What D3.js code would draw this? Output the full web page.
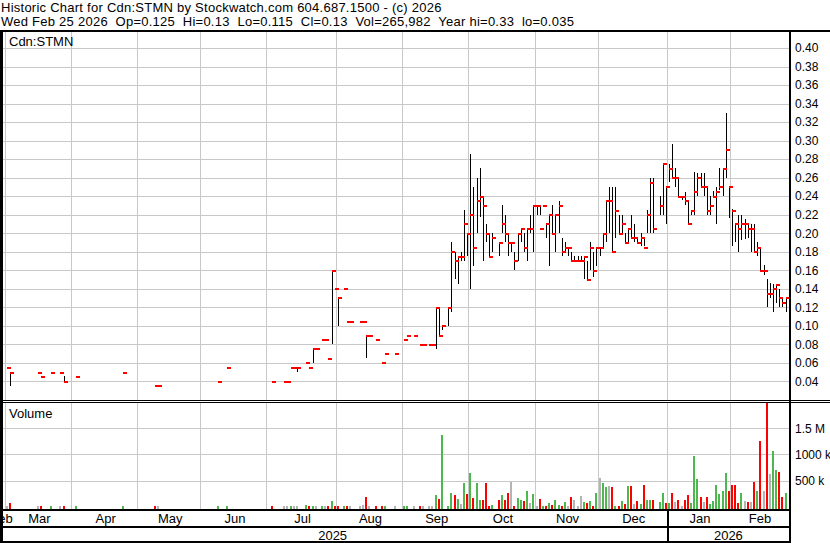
<!DOCTYPE html>
<html>
<head>
<meta charset="utf-8">
<script src="https://cdn.jsdelivr.net/npm/d3@7"></script>
<style>
  body { margin: 0; background: #fff; }
  svg { display: block; }
  text { white-space: pre; font-family: "Liberation Sans", Arial, sans-serif; }
</style>
</head>
<body>
<svg id="chart" width="830" height="543"></svg>
<script>
// ---- header text ----
const titleLines = [
  "Historic Chart for Cdn:STMN by Stockwatch.com 604.687.1500 - (c) 2026",
  "Wed Feb 25 2026  Op=0.125  Hi=0.13  Lo=0.115  Cl=0.13  Vol=265,982  Year hi=0.33  lo=0.035"
];

// ---- x axis: trading-day slots, 0 = left edge, 250 = Wed Feb 25 2026 ----
const slotCount = 251;
const monthNames = ["Feb", "Mar", "Apr", "May", "Jun", "Jul", "Aug", "Sep", "Oct", "Nov", "Dec", "Jan", "Feb"];
const monthStart = [0, 3, 24, 45, 65, 86, 108, 129, 150, 171, 191, 213, 233];
const yearNames = ["2025", "2026"];
const yearStart = [0, 213];

// ---- y axes ----
const priceTicks = [0.04, 0.06, 0.08, 0.10, 0.12, 0.14, 0.16, 0.18, 0.20, 0.22,
                    0.24, 0.26, 0.28, 0.30, 0.32, 0.34, 0.36, 0.38, 0.40];
const volTicks = [500000, 1000000, 1500000];
const volTickLabels = ["500 k", "1000 k", "1.5 M"];

// ---- daily data (only days that traded) ----
const day = [
  3, 4, 13, 14, 17, 20, 21,                                   // Mar
  25, 40,                                                     // Apr
  50, 51,                                                     // May
  70, 73,                                                     // Jun
  87, 91, 92, 93, 94, 95, 98, 99, 100, 101, 103, 104, 105, 106, 107, // Jul
  108, 110, 111, 112, 115, 116, 117, 118, 120, 122, 123, 126, // Aug
  129, 130, 132, 134, 135, 137, 138, 139, 140, 141, 143, 144, 145, 146, 147, 148, 149, // Sep
  150, 151, 152, 153, 154, 155, 156, 157, 159, 160, 161, 162, 163, 164, 165, 166, 167, 168, 169, 170, // Oct
  171, 172, 173, 174, 175, 176, 177, 178, 179, 180, 181, 182, 183, 184, 185, 186, 187, 188, 189, 190, // Nov
  191, 192, 193, 194, 195, 196, 197, 198, 199, 200, 201, 202, 203, 204, 205, 206, 207, 208, 210, 211, 212, // Dec
  213, 214, 215, 216, 217, 218, 219, 220, 221, 222, 223, 224, 225, 226, 227, 228, 229, 230, 231, 232, // Jan
  233, 234, 235, 236, 237, 238, 239, 240, 241, 242, 243, 244, 245, 246, 247, 248, 249, 250  // Feb
];
const high = [
  .055, .05, .05, .045, .05, .05, .046,
  .045, .05,
  .035, .035,
  .04, .055,
  .04, .04, .04, .055, .055, .055, .06, .055, .075, .075, .085, .085, .065, .16, .14,
  .13, .14, .105, .105, .105, .105, .09, .09, .085, .06, .07, .07,
  .085, .09, .09, .08, .08, .08, .08, .12, .12, .10, .12, .19, .18, .175, .18, .225, .20,
  .286, .25, .26, .27, .24, .21, .20, .20, .19, .23, .22, .20, .19, .18, .20, .205, .20, .205, .22, .23,
  .23, .23, .23, .21, .22, .23, .22, .235, .195, .19, .185, .18, .175, .175, .175, .175, .17, .19, .18, .185,
  .185, .20, .235, .25, .25, .25, .22, .22, .20, .205, .22, .21, .195, .20, .195, .225, .26, .26, .24, .275, .25,
  .275, .296, .27, .26, .24, .245, .236, .225, .266, .265, .265, .265, .25, .24, .246, .25, .27, .27, .33, .25,
  .226, .21, .22, .22, .215, .21, .21, .21, .19, .185, .166, .15, .146, .145, .145, .14, .13, .13
];
const low = [
  .055, .035, .05, .045, .05, .05, .04,
  .045, .05,
  .035, .035,
  .04, .055,
  .04, .04, .04, .055, .055, .05, .06, .055, .06, .075, .085, .085, .065, .08, .14,
  .10, .14, .105, .105, .105, .105, .065, .09, .085, .06, .07, .07,
  .085, .09, .09, .08, .08, .08, .08, .075, .09, .095, .10, .115, .15, .145, .17, .17, .175,
  .14, .165, .20, .218, .17, .19, .175, .18, .175, .20, .19, .175, .18, .16, .17, .19, .18, .17, .20, .18,
  .22, .22, .23, .195, .165, .20, .18, .20, .175, .18, .175, .17, .17, .17, .17, .15, .15, .16, .153, .164,
  .175, .185, .19, .20, .18, .195, .20, .20, .19, .19, .195, .19, .19, .186, .186, .20, .20, .20, .22, .22, .21,
  .255, .26, .25, .24, .236, .23, .21, .22, .22, .24, .25, .24, .22, .22, .24, .21, .247, .24, .26, .216,
  .186, .19, .18, .193, .194, .195, .18, .18, .175, .16, .155, .12, .13, .115, .125, .12, .12, .115
];
const close = [
  .055, .05, .05, .045, .05, .05, .04,
  .045, .05,
  .035, .035,
  .04, .055,
  .04, .04, .04, .055, .055, .055, .06, .055, .075, .075, .085, .085, .065, .16, .14,
  .13, .14, .105, .105, .105, .105, .09, .09, .085, .06, .07, .07,
  .085, .09, .09, .08, .08, .08, .08, .12, .09, .10, .12, .18, .17, .175, .175, .21, .20,
  .22, .185, .235, .24, .23, .20, .175, .195, .19, .21, .20, .19, .19, .17, .20, .205, .185, .205, .205, .23,
  .23, .205, .23, .21, .22, .20, .22, .23, .18, .185, .185, .17, .17, .17, .17, .175, .15, .185, .16, .185,
  .185, .20, .235, .235, .18, .225, .20, .21, .19, .205, .195, .195, .19, .195, .185, .22, .255, .205, .23, .275, .25,
  .27, .26, .26, .24, .24, .235, .21, .225, .245, .26, .25, .25, .225, .23, .24, .245, .25, .27, .29, .25,
  .225, .21, .205, .21, .21, .205, .205, .18, .185, .16, .16, .135, .135, .14, .145, .13, .125, .13
];
const volume = [
  5000, 70000, 5000, 8000, 5000, 5000, 11000,
  5000, 5000,
  8000, 5000,
  5000, 5000,
  11000, 5000, 5000, 5000, 5000, 5000, 31000, 5000, 8000, 5000, 5000, 5000, 11000, 107000, 5000,
  5000, 5000, 11000, 11000, 5000, 31000, 184000, 5000, 20000, 11000, 5000, 5000,
  11000, 11000, 11000, 5000, 3000, 5000, 3000, 222000, 146000, 1370000, 5000, 261000, 222000, 146000, 50000, 452000, 241000,
  644000, 165000, 452000, 126000, 126000, 452000, 5000, 31000, 126000, 222000, 126000, 261000, 471000, 11000, 165000, 126000, 107000, 299000, 69000, 241000,
  11000, 146000, 3000, 5000, 69000, 31000, 126000, 31000, 3000, 88000, 11000, 184000, 126000, 11000, 203000, 88000, 69000, 107000, 11000, 261000,
  548000, 452000, 375000, 395000, 375000, 11000, 11000, 107000, 50000, 395000, 395000, 50000, 107000, 50000, 414000, 126000, 126000, 126000, 88000, 261000, 69000,
  69000, 261000, 88000, 126000, 11000, 126000, 222000, 69000, 969000, 529000, 184000, 88000, 184000, 50000, 107000, 414000, 241000, 299000, 644000, 299000,
  414000, 414000, 69000, 261000, 107000, 88000, 88000, 471000, 299000, 1260000, 299000, 2000000, 625000, 1065000, 701000, 663000, 184000, 265982
];

// ---- layout ----
const W = 830, H = 543;
const plotL = 3, plotR = 789;
const priceTop = 32, priceBot = 400;
const volTop = 403, volBot = 509;

const bars = day.map((d, i) => ({
  day: d, hi: high[i], lo: low[i], cl: close[i], vol: volume[i],
  prev: i > 0 ? close[i - 1] : close[i]
}));

const x = d3.scaleLinear().domain([0, slotCount]).range([-3.7, 787.8]);
const yP = d3.scaleLinear().domain([0.04, 0.40]).range([381.3, 48]);
const yV = d3.scaleLinear().domain([0, 1500000]).range([506.6, 428.3]);
const px = d => Math.round(x(d));

const svg = d3.select("#chart");
svg.append("rect").attr("width", W).attr("height", H).attr("fill", "#fff");

const defs = svg.append("defs");
defs.append("clipPath").attr("id", "clipP").append("rect")
  .attr("x", plotL).attr("y", priceTop).attr("width", plotR - plotL).attr("height", priceBot - priceTop);
defs.append("clipPath").attr("id", "clipV").append("rect")
  .attr("x", plotL).attr("y", volTop).attr("width", plotR - plotL).attr("height", volBot - volTop);

// header
svg.selectAll(".title").data(titleLines).enter().append("text")
  .attr("class", "title")
  .attr("x", 1).attr("y", (d, i) => 12 + i * 14)
  .attr("font-size", 13).attr("letter-spacing", 0.25).attr("fill", "#000")
  .text(d => d);

// grid
const grid = svg.append("g").attr("stroke", "#c8c8c8").attr("shape-rendering", "crispEdges");
grid.selectAll(".hp").data(priceTicks).enter().append("line")
  .attr("x1", plotL).attr("x2", plotR)
  .attr("y1", d => Math.round(yP(d)) + 0.5).attr("y2", d => Math.round(yP(d)) + 0.5);
grid.selectAll(".hv").data(volTicks).enter().append("line")
  .attr("x1", plotL).attr("x2", plotR)
  .attr("y1", d => Math.round(yV(d)) + 0.5).attr("y2", d => Math.round(yV(d)) + 0.5);
const monthLines = monthStart.slice(1);
grid.selectAll(".vp").data(monthLines).enter().append("line")
  .attr("x1", d => px(d) - 0.5).attr("x2", d => px(d) - 0.5)
  .attr("y1", priceTop).attr("y2", priceBot);
grid.selectAll(".vv").data(monthLines).enter().append("line")
  .attr("x1", d => px(d) - 0.5).attr("x2", d => px(d) - 0.5)
  .attr("y1", volTop).attr("y2", volBot);

// price bars: high-low line plus red close tick
const pg = svg.append("g").attr("clip-path", "url(#clipP)").attr("shape-rendering", "crispEdges");
pg.selectAll(".hl").data(bars.filter(b => b.hi > b.lo)).enter().append("rect")
  .attr("x", b => px(b.day) + 1).attr("width", 1)
  .attr("y", b => Math.round(yP(b.hi)))
  .attr("height", b => Math.max(1, Math.round(yP(b.lo)) - Math.round(yP(b.hi))))
  .attr("fill", "#000");
pg.selectAll(".cl").data(bars).enter().append("rect")
  .attr("x", b => px(b.day) + 1).attr("width", 4)
  .attr("y", b => Math.round(yP(b.cl) - 0.5)).attr("height", 2)
  .attr("fill", "#ff0000");

// volume bars
const volColor = b => b.cl > b.prev ? "#4db84d" : (b.cl < b.prev ? "#ff0000" : "#b4b4b4");
const vg = svg.append("g").attr("clip-path", "url(#clipV)").attr("shape-rendering", "crispEdges");
vg.selectAll(".vol").data(bars).enter().append("rect")
  .attr("x", b => px(b.day)).attr("width", 2)
  .attr("y", b => Math.round(yV(b.vol)))
  .attr("height", b => volBot - Math.round(yV(b.vol)))
  .attr("fill", volColor);

// panel labels
svg.append("text").attr("x", 9).attr("y", 46).attr("font-size", 13).text("Cdn:STMN");
svg.append("text").attr("x", 9).attr("y", 418).attr("font-size", 13).text("Volume");

// right axes
const styleAxis = g => {
  g.select(".domain").remove();
  g.attr("font-family", null).attr("font-size", null);
  g.selectAll("text").attr("font-size", 12).attr("fill", "#000");
};
svg.append("g").attr("transform", `translate(${plotR + 1},0)`)
  .call(d3.axisRight(yP).tickValues(priceTicks).tickFormat(d3.format(".2f")).tickSize(0).tickPadding(5))
  .call(styleAxis);
svg.append("g").attr("transform", `translate(${plotR + 1},0)`)
  .call(d3.axisRight(yV).tickValues(volTicks).tickFormat((d, i) => volTickLabels[i]).tickSize(0).tickPadding(5))
  .call(styleAxis);

// month and year labels
const monthMid = monthStart.map((s, i) => (s + (i + 1 < monthStart.length ? monthStart[i + 1] : slotCount)) / 2);
svg.append("g").attr("transform", "translate(0,511)")
  .call(d3.axisBottom(x).tickValues(monthMid).tickFormat((d, i) => monthNames[i]).tickSize(0).tickPadding(3))
  .call(styleAxis)
  .selectAll("text").attr("font-size", 13);
const yearMid = yearStart.map((s, i) => (s + (i + 1 < yearStart.length ? yearStart[i + 1] : slotCount)) / 2);
svg.append("g").attr("transform", "translate(0,528)")
  .call(d3.axisBottom(x).tickValues(yearMid).tickFormat((d, i) => yearNames[i]).tickSize(0).tickPadding(3))
  .call(styleAxis)
  .selectAll("text").attr("font-size", 13);

// frame
const frame = svg.append("g").attr("fill", "#000").attr("shape-rendering", "crispEdges");
[
  [0, 30, W, 2],          // under header
  [0, 30, 3, H - 30],     // left edge
  [0, 400, W, 1],         // price panel bottom
  [0, 402, W, 1],         // volume panel top
  [0, 509, plotR + 2, 2], // volume panel bottom
  [0, 526, plotR + 2, 2], // under month row
  [0, 541, plotR + 2, 2], // bottom
  [plotR, 30, 2, H - 30]  // axis separator
].forEach(r => frame.append("rect").attr("x", r[0]).attr("y", r[1]).attr("width", r[2]).attr("height", r[3]));
frame.append("rect").attr("x", px(yearStart[1]) - 1).attr("y", 510).attr("width", 2).attr("height", 32);
</script>
</body>
</html>
